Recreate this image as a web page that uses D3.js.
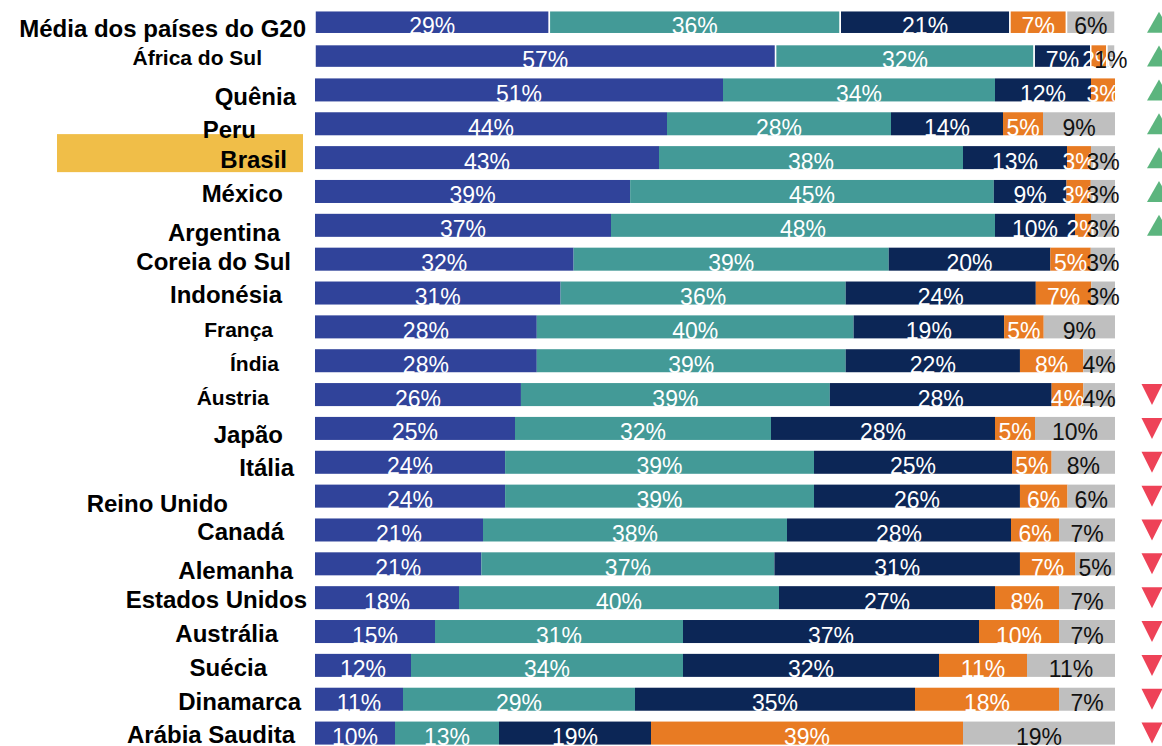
<!DOCTYPE html>
<html lang="pt-BR">
<head>
<meta charset="utf-8">
<script src="https://cdn.jsdelivr.net/npm/d3@7"></script>
<style>
  html, body { margin: 0; padding: 0; background: #ffffff; }
  svg { display: block; font-family: "Liberation Sans", Arial, Helvetica, sans-serif; }
</style>
</head>
<body>
<svg id="chart" width="1162" height="746"></svg>
<script>
// Países (ordem de exibição, de cima para baixo)
const countries = [
  "Média dos países do G20", "África do Sul", "Quênia", "Peru", "Brasil", "México",
  "Argentina", "Coreia do Sul", "Indonésia", "França", "Índia", "Áustria", "Japão",
  "Itália", "Reino Unido", "Canadá", "Alemanha", "Estados Unidos", "Austrália",
  "Suécia", "Dinamarca", "Arábia Saudita"
];

// Participação (%) de cada faixa, por país
const faixa1 = [29, 57, 51, 44, 43, 39, 37, 32, 31, 28, 28, 26, 25, 24, 24, 21, 21, 18, 15, 12, 11, 10];
const faixa2 = [36, 32, 34, 28, 38, 45, 48, 39, 36, 40, 39, 39, 32, 39, 39, 38, 37, 40, 31, 34, 29, 13];
const faixa3 = [21, 7, 12, 14, 13, 9, 10, 20, 24, 19, 22, 28, 28, 25, 26, 28, 31, 27, 37, 32, 35, 19];
const faixa4 = [7, 2, 3, 5, 3, 3, 2, 5, 7, 5, 8, 4, 5, 5, 6, 6, 7, 8, 10, 11, 18, 39];
const faixa5 = [6, 1, 0, 9, 3, 3, 3, 3, 3, 9, 4, 4, 10, 8, 6, 7, 5, 7, 7, 11, 7, 19];

// Tendência: "up" (alta), "down" (queda) ou "" (sem marcador)
const trend = [
  "up", "up", "up", "up", "up", "up", "up", "", "", "", "", "down", "down",
  "down", "down", "down", "down", "down", "down", "down", "down", "down"
];

const highlighted = "Brasil";

const seriesKeys = ["faixa1", "faixa2", "faixa3", "faixa4", "faixa5"];
const seriesColors = ["#30439a", "#439a97", "#0c2656", "#e87b23", "#bfbfbf"];
const seriesText = ["#ffffff", "#ffffff", "#ffffff", "#ffffff", "#111111"];

// Posicionamento dos rótulos dos países (borda direita, linha de base relativa ao topo da barra, tamanho)
const labelRight = [306, 262, 296, 256, 287, 283, 280, 291, 282, 273, 279, 269, 283, 294, 228, 284, 293, 307, 278, 267, 301, 295];
const labelBase  = [26, 20, 27, 26, 22, 22, 27, 22, 21, 22, 22, 22, 26, 25, 27, 22, 27, 22, 22, 22, 22, 21];
const labelSize  = [24, 21, 24, 24, 24, 24, 24, 24, 24, 21, 21, 21, 24, 24, 24, 24, 24, 24, 24, 24, 24, 24];

// Tabela para o empilhamento
const table = countries.map((c, i) => ({
  country: c,
  faixa1: faixa1[i], faixa2: faixa2[i], faixa3: faixa3[i], faixa4: faixa4[i], faixa5: faixa5[i]
}));

const stacked = d3.stack().keys(seriesKeys).offset(d3.stackOffsetExpand)(table);

const svg = d3.select("#chart");

const y = d3.scaleBand()
  .domain(countries)
  .range([5.3, 750])
  .paddingInner(0.32)
  .paddingOuter(0.16);

const x = d3.scaleLinear().domain([0, 1]).range([315, 1115]);
const bw = y.bandwidth();

// Destaque do Brasil
svg.append("rect")
  .attr("x", 57)
  .attr("y", y(highlighted) - 12)
  .attr("width", 246)
  .attr("height", bw + 15)
  .attr("fill", "#f0be48");

// Rótulos dos países
svg.append("g")
  .selectAll("text")
  .data(countries)
  .join("text")
  .attr("x", (d, i) => labelRight[i])
  .attr("y", (d, i) => y(d) + labelBase[i])
  .attr("text-anchor", "end")
  .attr("font-weight", "bold")
  .attr("font-size", (d, i) => labelSize[i])
  .attr("fill", "#000")
  .text(d => d);

// Barras empilhadas
const layers = svg.append("g")
  .selectAll("g")
  .data(stacked)
  .join("g")
  .attr("fill", (d, i) => seriesColors[i]);

layers.selectAll("rect")
  .data(d => d)
  .join("rect")
  .attr("x", d => x(d[0]))
  .attr("y", d => y(d.data.country))
  .attr("width", d => Math.max(0, x(d[1]) - x(d[0])))
  .attr("height", bw)
  .attr("stroke", (d, i) => i < 2 ? "#ffffff" : "none")
  .attr("stroke-width", 1.5);

// Valores dentro das barras
const valueGroups = svg.append("g")
  .selectAll("g")
  .data(stacked)
  .join("g")
  .attr("fill", (d, i) => seriesText[i]);

valueGroups.selectAll("text")
  .data(d => d.filter(s => s.data[d.key] > 0).map(s => ({ s, key: d.key })))
  .join("text")
  .attr("x", d => (x(d.s[0]) + x(d.s[1])) / 2)
  .attr("y", d => y(d.s.data.country) + bw + 0.5)
  .attr("text-anchor", "middle")
  .attr("font-size", 23)
  .text(d => d.s.data[d.key] + "%");

// Marcadores de tendência
const triH = 21;
const trendX = { up: 1159, down: 1152 };
const trendHalf = { up: 12, down: 10.5 };
const trendColor = { up: "#5cb57e", down: "#ee4257" };

svg.append("g")
  .selectAll("path")
  .data(countries.map((c, i) => ({ c, t: trend[i] })).filter(d => d.t))
  .join("path")
  .attr("fill", d => trendColor[d.t])
  .attr("d", d => {
    const cx = trendX[d.t], cy = y(d.c) + bw / 2, h = trendHalf[d.t];
    const pts = d.t === "up"
      ? [[cx - h, cy + triH / 2], [cx, cy - triH / 2], [cx + h, cy + triH / 2]]
      : [[cx - h, cy - triH / 2], [cx + h, cy - triH / 2], [cx, cy + triH / 2]];
    return d3.line()(pts) + "Z";
  });
</script>
</body>
</html>
